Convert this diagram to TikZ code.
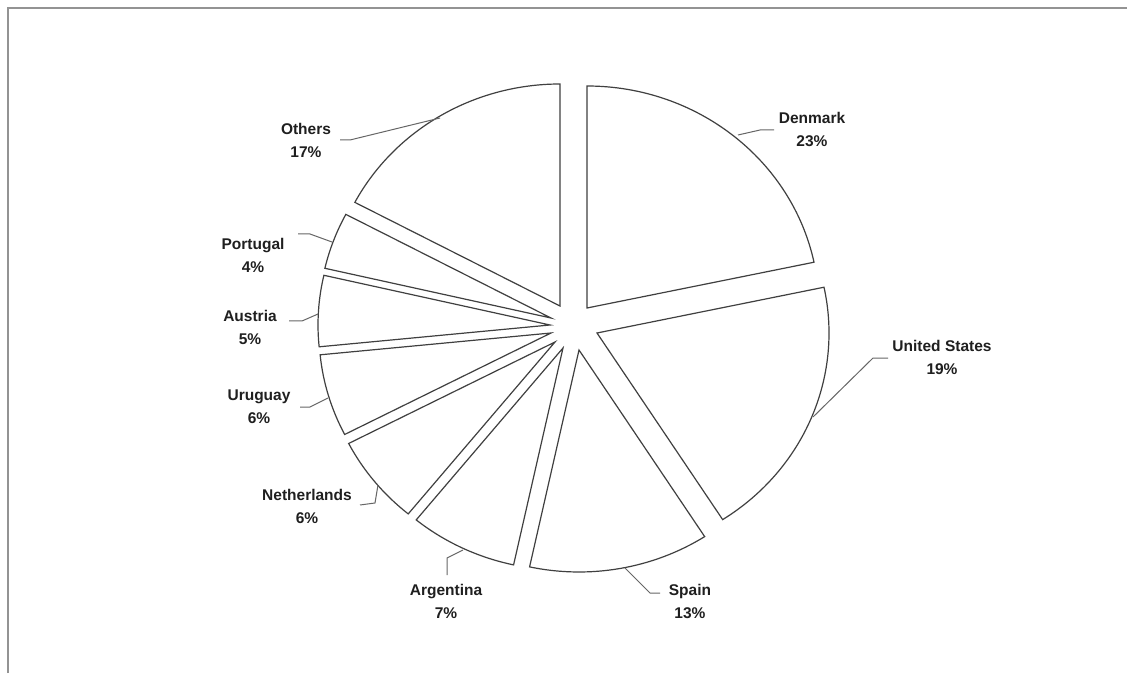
\documentclass[tikz,border=0pt]{standalone}
\usepackage{fontspec}
\setmainfont{Liberation Sans}
\begin{document}
\begin{tikzpicture}[x=1pt,y=1pt,
  slice/.style={draw=black!75,line width=1.2pt,fill=white,line join=miter},
  leader/.style={draw=black!60,line width=1pt},
  lbl/.style={align=center,font=\fontsize{15.5}{23}\selectfont\bfseries,text=black!88,inner sep=0pt}]
\useasboundingbox (0,0) rectangle (1127,673);
\fill[white] (0,0) rectangle (1127,673);
% frame
\draw[gray!85,line width=2pt] (8,0) -- (8,665) -- (1127,665);
% apexes
\coordinate (dk) at (587,365);
\coordinate (us) at (597,340);
\coordinate (sp) at (579,323);
\coordinate (ar) at (563,325);
\coordinate (nl) at (555,331);
\coordinate (uy) at (551,340);
\coordinate (at) at (550,348);
\coordinate (pt) at (551,355);
\coordinate (ot) at (560,367);
\def\rx{232}\def\ry{222}
% slices
\draw[slice] (dk) -- ++(90:\rx pt and \ry pt) arc[start angle=90,end angle=11.9,x radius=\rx pt,y radius=\ry pt] -- cycle;
\draw[slice] (us) -- ++(11.9:\rx pt and \ry pt) arc[start angle=11.9,end angle=-57.2,x radius=\rx pt,y radius=\ry pt] -- cycle;
\draw[slice] (sp) -- ++(-57.2:\rx pt and \ry pt) arc[start angle=-57.2,end angle=-102.3,x radius=\rx pt,y radius=\ry pt] -- cycle;
\draw[slice] (ar) -- ++(-102.3:\rx pt and \ry pt) arc[start angle=-102.3,end angle=-129.25,x radius=\rx pt,y radius=\ry pt] -- cycle;
\draw[slice] (nl) -- ++(-129.25:\rx pt and \ry pt) arc[start angle=-129.25,end angle=-152.8,x radius=\rx pt,y radius=\ry pt] -- cycle;
\draw[slice] (uy) -- ++(-152.8:\rx pt and \ry pt) arc[start angle=-152.8,end angle=-174.36,x radius=\rx pt,y radius=\ry pt] -- cycle;
\draw[slice] (at) -- ++(-174.36:\rx pt and \ry pt) arc[start angle=-174.36,end angle=-192.94,x radius=\rx pt,y radius=\ry pt] -- cycle;
\draw[slice] (pt) -- ++(-192.94:\rx pt and \ry pt) arc[start angle=-192.94,end angle=-207.83,x radius=\rx pt,y radius=\ry pt] -- cycle;
\draw[slice] (ot) -- ++(-207.83:\rx pt and \ry pt) arc[start angle=-207.83,end angle=-270,x radius=\rx pt,y radius=\ry pt] -- cycle;
% labels
\node[lbl] (Ldk) at (812,543.5) {Denmark\\23\%};
\node[lbl] (Lus) at (942,315.5) {United States\\19\%};
\node[lbl] (Lsp) at (690,71.5) {Spain\\13\%};
\node[lbl] (Lar) at (446,72) {Argentina\\7\%};
\node[lbl] (Lnl) at (307,166.5) {Netherlands\\6\%};
\node[lbl] (Luy) at (259,266) {Uruguay\\6\%};
\node[lbl] (Lat) at (250,345.5) {Austria\\5\%};
\node[lbl] (Lpt) at (253,418) {Portugal\\4\%};
\node[lbl] (Lot) at (306,532.5) {Others\\17\%};
% leader points
\coordinate (dk1) at (738,538); \coordinate (dk2) at (760,543); \coordinate (dk3) at (774,543);
\coordinate (us1) at (813,256); \coordinate (us2) at (873,315); \coordinate (us3) at (888,315);
\coordinate (sp1) at (625,105); \coordinate (sp2) at (650,80); \coordinate (sp3) at (660,80);
\coordinate (ar1) at (463,123); \coordinate (ar2) at (447,115); \coordinate (ar3) at (447,98);
\coordinate (nl1) at (378,188); \coordinate (nl2) at (375,170); \coordinate (nl3) at (360,168);
\coordinate (uy1) at (328,275); \coordinate (uy2) at (310,266); \coordinate (uy3) at (300,266);
\coordinate (at1) at (318,359); \coordinate (at2) at (302,352); \coordinate (at3) at (289,352);
\coordinate (pt1) at (332,431); \coordinate (pt2) at (310,439); \coordinate (pt3) at (298,439);
\coordinate (ot1) at (440,555); \coordinate (ot2) at (350,533); \coordinate (ot3) at (340,533);
\draw[leader] (dk1) -- (dk2) -- (dk3);
\draw[leader] (us1) -- (us2) -- (us3);
\draw[leader] (sp1) -- (sp2) -- (sp3);
\draw[leader] (ar1) -- (ar2) -- (ar3);
\draw[leader] (nl1) -- (nl2) -- (nl3);
\draw[leader] (uy1) -- (uy2) -- (uy3);
\draw[leader] (at1) -- (at2) -- (at3);
\draw[leader] (pt1) -- (pt2) -- (pt3);
\draw[leader] (ot1) -- (ot2) -- (ot3);
\end{tikzpicture}
\end{document}
